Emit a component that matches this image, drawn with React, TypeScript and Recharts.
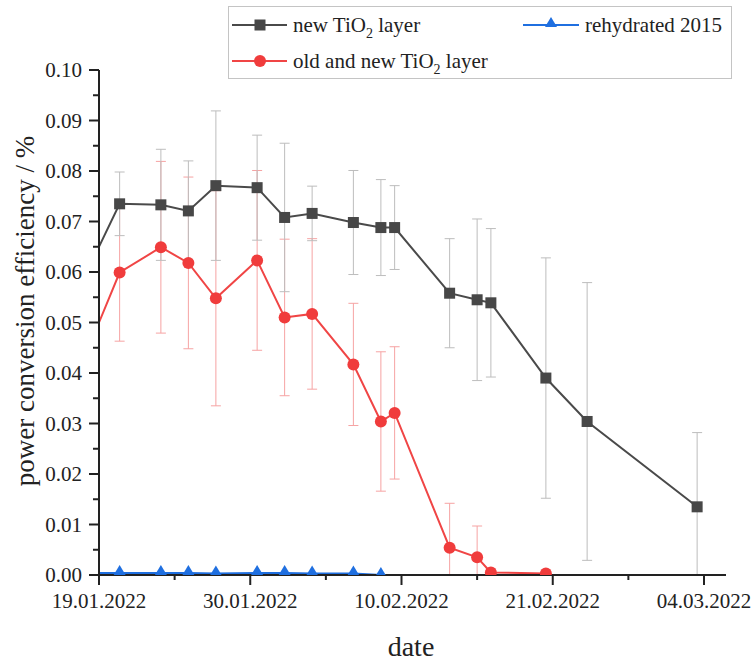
import { LineChart, Line, XAxis, YAxis, ErrorBar } from 'recharts';

// days after 19.01.2022 (measurements at noon); first point lies before the axis and is clipped
const newDays = [-1.5, 1.5, 4.5, 6.5, 8.5, 11.5, 13.5, 15.5, 18.5, 20.5, 21.5, 25.5, 27.5, 28.5, 32.5, 35.5, 43.5];
const newPce = [0.0565, 0.0735, 0.0733, 0.0721, 0.0771, 0.0767, 0.0708, 0.0716, 0.0698, 0.0688, 0.0688, 0.0558, 0.0545, 0.0539, 0.039, 0.0304, 0.0135];
const newErr = [null, 0.0063, 0.011, 0.0099, 0.0148, 0.0104, 0.0147, 0.0054, 0.0103, 0.0095, 0.0083, 0.0108, 0.016, 0.0147, 0.0238, 0.0275, 0.0147];

const oldDays = [-1.5, 1.5, 4.5, 6.5, 8.5, 11.5, 13.5, 15.5, 18.5, 20.5, 21.5, 25.5, 27.5, 28.5, 32.5];
const oldPce = [0.0401, 0.0599, 0.0649, 0.0618, 0.0548, 0.0623, 0.051, 0.0517, 0.0417, 0.0304, 0.0321, 0.0054, 0.0035, 0.0005, 0.0003];
const oldErr = [null, 0.0136, 0.017, 0.017, 0.0213, 0.0178, 0.0155, 0.0149, 0.0121, 0.0138, 0.0131, 0.0088, 0.0062, null, null];

const rehDays = [-1.5, 1.5, 4.5, 6.5, 8.5, 11.5, 13.5, 15.5, 18.5, 20.5];
const rehPce = [0.0004, 0.0004, 0.0004, 0.0004, 0.0003, 0.0004, 0.0004, 0.0003, 0.0003, 0.0];

const xTicks = [0, 5.5, 11, 16.5, 22, 27.5, 33, 38.5, 44];
const dateLabels = ['19.01.2022', '30.01.2022', '10.02.2022', '21.02.2022', '04.03.2022'];
const yTicks = [0, 0.005, 0.01, 0.015, 0.02, 0.025, 0.03, 0.035, 0.04, 0.045, 0.05, 0.055, 0.06, 0.065, 0.07, 0.075, 0.08, 0.085, 0.09, 0.095, 0.1];

const FONT = '"Liberation Serif", "Times New Roman", serif';
const INK = '#222';

// error bars stop at the x axis, like the clipped bars in the original plot
const withErr = (pce: number, e: number | null) => (e == null ? null : [Math.min(e, pce), e]);
const newData = newDays.map((day, i) => ({ day, pce: newPce[i], err: withErr(newPce[i], newErr[i]) }));
const oldData = oldDays.map((day, i) => ({ day, pce: oldPce[i], err: withErr(oldPce[i], oldErr[i]) }));
const rehData = rehDays.map((day, i) => ({ day, pce: rehPce[i] }));

function XTick({ x, y, payload }: any) {
  const v = payload.value;
  const major = Math.abs(v / 11 - Math.round(v / 11)) < 1e-6;
  return (
    <g>
      <line x1={x} x2={x} y1={y} y2={y + (major ? 10 : 5)} stroke={INK} strokeWidth={2} />
      {major && (
        <text x={x} y={y + 33} textAnchor="middle" fontFamily={FONT} fontSize={21} fill={INK}>
          {dateLabels[Math.round(v / 11)]}
        </text>
      )}
    </g>
  );
}

function YTick({ x, y, payload }: any) {
  const v = payload.value;
  const major = Math.round(v * 1000) % 10 === 0;
  return (
    <g>
      <line x1={x} x2={x - (major ? 10 : 6)} y1={y} y2={y} stroke={INK} strokeWidth={2} />
      {major && (
        <text x={x - 17} y={y + 7} textAnchor="end" fontFamily={FONT} fontSize={21} fill={INK}>
          {v.toFixed(2)}
        </text>
      )}
    </g>
  );
}

function SquareDot(p: any) {
  if (p.cx == null || p.payload.day < 0) return <g key={`sq-${p.index}`} />;
  return <rect key={`sq-${p.index}`} x={p.cx - 5.5} y={p.cy - 5.5} width={11} height={11} fill="#474747" />;
}

function CircleDot(p: any) {
  if (p.cx == null || p.payload.day < 0) return <g key={`ci-${p.index}`} />;
  return <circle key={`ci-${p.index}`} cx={p.cx} cy={p.cy} r={6} fill="#f03c3c" />;
}

function TriangleDot(p: any) {
  if (p.cx == null || p.payload.day < 0) return <g key={`tr-${p.index}`} />;
  const { cx, cy } = p;
  return <path key={`tr-${p.index}`} d={`M${cx},${cy - 8} L${cx + 6},${cy + 2} L${cx - 6},${cy + 2} Z`} fill="#1f6fe0" />;
}

function Legend() {
  const sub = (
    <>
      <tspan dy={6} fontSize={14}>2</tspan>
      <tspan dy={-6}> layer</tspan>
    </>
  );
  return (
    <svg width={755} height={100} style={{ position: 'absolute', left: 0, top: 0, pointerEvents: 'none' }}>
      <rect x={228.5} y={6.5} width={503} height={72} fill="none" stroke="#c4c4c4" strokeWidth={1} />
      <line x1={232} x2={287} y1={25} y2={25} stroke="#4a4a4a" strokeWidth={2} />
      <rect x={254.5} y={19.5} width={11} height={11} fill="#474747" />
      <text x={293} y={32} fontFamily={FONT} fontSize={21} fill={INK}>new TiO{sub}</text>
      <line x1={232} x2={287} y1={61} y2={61} stroke="#f04545" strokeWidth={2} />
      <circle cx={260} cy={61} r={6} fill="#f03c3c" />
      <text x={293} y={68} fontFamily={FONT} fontSize={21} fill={INK}>old and new TiO{sub}</text>
      <line x1={523} x2={579} y1={25} y2={25} stroke="#1f6fe0" strokeWidth={2} />
      <path d="M551,17 L557,27 L545,27 Z" fill="#1f6fe0" />
      <text x={585} y={32} fontFamily={FONT} fontSize={21} fill={INK}>rehydrated 2015</text>
    </svg>
  );
}

export default function App() {
  return (
    <div style={{ position: 'absolute', left: 0, top: 0, width: 755, height: 664, background: '#fff' }}>
      <LineChart width={755} height={664} margin={{ top: 70, right: 29, left: 0, bottom: 0 }}>
        <XAxis
          type="number" dataKey="day" domain={[0, 45.6]} allowDataOverflow
          ticks={xTicks} interval={0} height={89}
          tickSize={0} tickMargin={0} tick={<XTick />}
          axisLine={{ stroke: INK, strokeWidth: 2 }}
        />
        <YAxis
          type="number" domain={[0, 0.1]} allowDataOverflow
          ticks={yTicks} interval={0} width={99}
          tickSize={0} tickMargin={0} tick={<YTick />}
          axisLine={{ stroke: INK, strokeWidth: 2 }}
        />
        <Line
          data={oldData} dataKey="pce" name="old and new TiO2 layer"
          stroke="#f04545" strokeWidth={2} dot={CircleDot} activeDot={false}
          isAnimationActive={false}
        >
          <ErrorBar dataKey="err" direction="y" width={5} strokeWidth={1} stroke="#f6a3a3" />
        </Line>
        <Line
          data={newData} dataKey="pce" name="new TiO2 layer"
          stroke="#4a4a4a" strokeWidth={2} dot={SquareDot} activeDot={false}
          isAnimationActive={false}
        >
          <ErrorBar dataKey="err" direction="y" width={5} strokeWidth={1} stroke="#bdbdbd" />
        </Line>
        <Line
          data={rehData} dataKey="pce" name="rehydrated 2015"
          stroke="#1f6fe0" strokeWidth={2} dot={TriangleDot} activeDot={false}
          isAnimationActive={false}
        />
      </LineChart>
      <Legend />
      <svg width={755} height={664} style={{ position: 'absolute', left: 0, top: 0, pointerEvents: 'none' }}>
        <text transform="translate(34,311) rotate(-90)" textAnchor="middle" fontFamily={FONT} fontSize={27} fill={INK}>
          power conversion efficiency / %
        </text>
        <text x={411} y={656} textAnchor="middle" fontFamily={FONT} fontSize={28} fill={INK}>date</text>
      </svg>
    </div>
  );
}
